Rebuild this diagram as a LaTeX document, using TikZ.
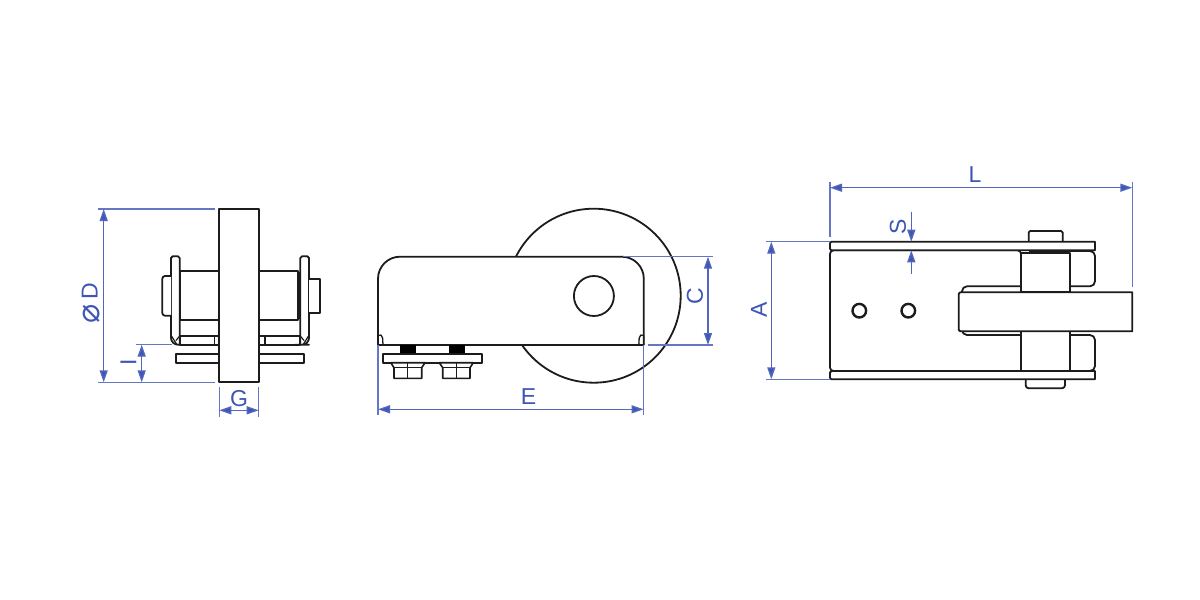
\documentclass[tikz,border=0pt]{standalone}
\usepackage{fontspec}
\setmainfont{Liberation Sans}
\newfontfamily\symfont{DejaVu Sans}
\usetikzlibrary{arrows.meta}
\definecolor{dimblue}{HTML}{3F55B5}
\definecolor{ink}{HTML}{1C1C1C}
\tikzset{
  x=1pt,y=-1pt,
  part/.style={draw=ink,line width=1.8pt,fill=white,line join=round},
  edge/.style={draw=ink,line width=1.8pt,line join=round},
  thin part/.style={draw=ink,line width=1.6pt,fill=white,line join=round},
  solid part/.style={fill=black,draw=none},
  extline/.style={draw=dimblue!80,line width=1.4pt},
  dimline/.style={draw=dimblue!90,line width=1.4pt,{Triangle[length=12pt,width=8pt,fill=dimblue]}-{Triangle[length=12pt,width=8pt,fill=dimblue]}},
  dimtip/.style={draw=dimblue!90,line width=1.4pt,-{Triangle[length=12pt,width=8pt,fill=dimblue]}},
  dimlabel/.style={text=dimblue,font=\fontsize{23}{23}\selectfont,inner sep=0pt},
}
\begin{document}
\begin{tikzpicture}
\useasboundingbox (0,0) rectangle (1200,600);
\fill[white] (0,0) rectangle (1200,600);

% ---------- left view ----------
\path[part] (176.3,354) rectangle (304.3,362.7);
\path[part] (180,271) rectangle (219.3,320);
\path[part] (258.7,271) rectangle (298.3,320);
\fill[ink] (297.6,272) rectangle (300.3,319);
% bracket floor
\path[part] (180,336) -- (219.3,336) -- (219.3,344.7) -- (180,344.7) -- cycle;
\path[part] (300,336) -- (258.7,336) -- (258.7,344.7) -- (300,344.7) -- cycle;
\draw[edge,line width=1.4pt] (214.7,336) -- (214.7,344.7);
\draw[edge,line width=1.4pt] (265,336) -- (265,344.7);
% side plates
\path[part] (175,256.3) [rounded corners=1.7pt] -- (179.7,256.3) -- (179.7,300) [sharp corners] -- (179.7,344.7) -- (178,344.7) [rounded corners=7pt] -- (171,344.7) -- (171,320) [rounded corners=1.7pt] -- (171,256.3) -- cycle;
\path[part] (305,256.3) [rounded corners=1.7pt] -- (309,256.3) -- (309,300) [rounded corners=7pt] -- (309,344.7) -- (302,344.7) [sharp corners] -- (300.3,344.7) -- (300.3,300) [rounded corners=1.7pt] -- (300.3,256.3) -- cycle;
\draw[edge,line width=1.2pt] (171.5,336) -- (176.5,344) (176,340.5) -- (179.7,336);
\draw[edge,line width=1.2pt] (308.5,336) -- (303.5,344) (304,340.5) -- (300.3,336);
\draw[edge,line width=2.2pt] (180,271) -- (180,320);
% bolts
\path[part,rounded corners=2.7pt] (171,276) -- (162.3,276) -- (162.3,315.7) -- (171,315.7);
\path[part] (309,278.7) -- (319.7,278.7) -- (319.7,312.7) -- (309,312.7);
% wheel
\path[part] (219.3,209) rectangle (258.7,382.3);

% ---------- middle view ----------
\path[part] (593.7,295.7) circle[radius=87];
\path[part] (500,256.7) [rounded corners=22pt] -- (643.8,256.7) -- (643.8,310) [sharp corners] -- (643.8,345) -- (378,345) -- (378,310) [rounded corners=22pt] -- (378,256.7) -- cycle;
\path[part] (593.9,296) circle[radius=20];
\draw[edge,line width=1.3pt] (378,345) -- (378,335.5) .. controls (380,333.5) and (382.5,335.5) .. (382.6,338) -- (383,345);
\draw[edge,line width=1.3pt] (643.8,345) -- (643.8,335.5) .. controls (641.8,333.5) and (639.3,335.5) .. (639.2,338) -- (638.8,345);
\fill[solid part] (400,345) rectangle (416,354);
\fill[solid part] (449,345) rectangle (465,354);
\path[part] (383.3,354) rectangle (482,362.7);
\path[thin part] (390.7,362.7) -- (425,362.7) -- (421.7,367.7) -- (421.7,378.3) -- (394,378.3) -- (394,367.7) -- cycle;
\path[thin part] (439.3,362.7) -- (473.3,362.7) -- (470,367.7) -- (470,378.3) -- (442.7,378.3) -- (442.7,367.7) -- cycle;
\draw[edge,line width=1.3pt] (394,367.7) -- (421.7,367.7) (407.8,362.7) -- (407.8,378.3);
\draw[edge,line width=1.3pt] (442.7,367.7) -- (470,367.7) (456.5,362.7) -- (456.5,378.3);

% ---------- right view ----------
\path[part,rounded corners=1.5pt] (1028.7,241.7) -- (1028.7,231) -- (1062.7,231) -- (1062.7,241.7);
\path[part,rounded corners=3pt] (1025.7,379.3) -- (1025.7,388.3) -- (1065,388.3) -- (1065,379.3);
% rear bracket ears
\path[part,rounded corners=5pt] (1060,251) -- (1095,251) -- (1095,286.3) -- (1060,286.3);
\path[part,rounded corners=5pt] (1060,335) -- (1095,335) -- (1095,371) -- (1060,371);
% bracket web
\path[part] (925,250.3) [rounded corners=3.5pt] -- (1021,250.3) [sharp corners] -- (1021,286.3) [rounded corners=5pt] -- (962,286.3) -- (962,335) [sharp corners] -- (1021,335) -- (1021,371) [rounded corners=3.5pt] -- (830,371) -- (830,250.3) -- cycle;
\path[part] (1021,252.7) rectangle (1070,292.3);
\path[part] (1021,331.3) rectangle (1070,370.7);
\path[part] (1050,292.3) -- (1132.3,292.3) -- (1132.3,331.3) [rounded corners=2pt] -- (958.7,331.3) -- (958.7,292.3) -- cycle;
\path[part] (960,241.7) -- (1095,241.7) -- (1095,250.3) [rounded corners=1.5pt] -- (830,250.3) -- (830,241.7) -- cycle;
\path[part] (960,371) -- (1095,371) -- (1095,379.3) [rounded corners=1.5pt] -- (830,379.3) -- (830,371) -- cycle;
\draw[edge,line width=2.4pt] (859.3,310.7) circle[radius=6.8];
\draw[edge,line width=2.4pt] (908.3,310.7) circle[radius=6.8];
\draw[edge,line width=1.3pt] (1029,251.5) -- (1062,251.5);

% ---------- dimensions ----------
\draw[extline] (98.3,209) -- (215,209);
\draw[extline] (98.3,382.3) -- (215,382.3);
\draw[dimline] (103.7,209) -- (103.7,382.3);
\draw[extline] (135.7,344.7) -- (172,344.7);
\draw[dimline] (141.7,344.7) -- (141.7,382.3);
\draw[extline] (219.3,387.3) -- (219.3,416.7);
\draw[extline] (258.7,387.3) -- (258.7,416.7);
\draw[dimline] (219.3,410.3) -- (258.7,410.3);
\draw[extline] (623,256.7) -- (713,256.7);
\draw[extline] (648,345) -- (713,345);
\draw[dimline] (708,256.7) -- (708,345);
\draw[extline] (378,345) -- (378,415);
\draw[extline] (643.5,345) -- (643.5,415);
\draw[dimline] (378,409.3) -- (643.5,409.3);
\draw[extline] (830,182) -- (830,236.7);
\draw[extline] (1132.3,182) -- (1132.3,287.3);
\draw[dimline] (830,187.7) -- (1132.3,187.7);
\draw[extline] (765.7,241.7) -- (830,241.7);
\draw[extline] (765.7,379.3) -- (830,379.3);
\draw[dimline] (771.3,241.7) -- (771.3,379.3);
\draw[dimtip] (911.3,211.7) -- (911.3,241.7);
\draw[dimtip] (911.3,273.7) -- (911.3,250.3);

\node[dimlabel,rotate=90] (labD) at (91,303) {\raisebox{-2pt}{\symfont\fontsize{32}{32}\selectfont ⌀}\hspace{5pt}D};
\node[dimlabel,rotate=90] (labI) at (128.5,362.3) {I};
\node[dimlabel] (labG) at (239,398.5) {G};
\node[dimlabel] (labE) at (528.5,396.5) {E};
\node[dimlabel,rotate=90] (labC) at (695,296.5) {C};
\node[dimlabel,rotate=90] (labA) at (759,310) {A};
\node[dimlabel] (labL) at (975,175) {L};
\node[dimlabel,rotate=90] (labS) at (898,226.5) {S};
\end{tikzpicture}
\end{document}
